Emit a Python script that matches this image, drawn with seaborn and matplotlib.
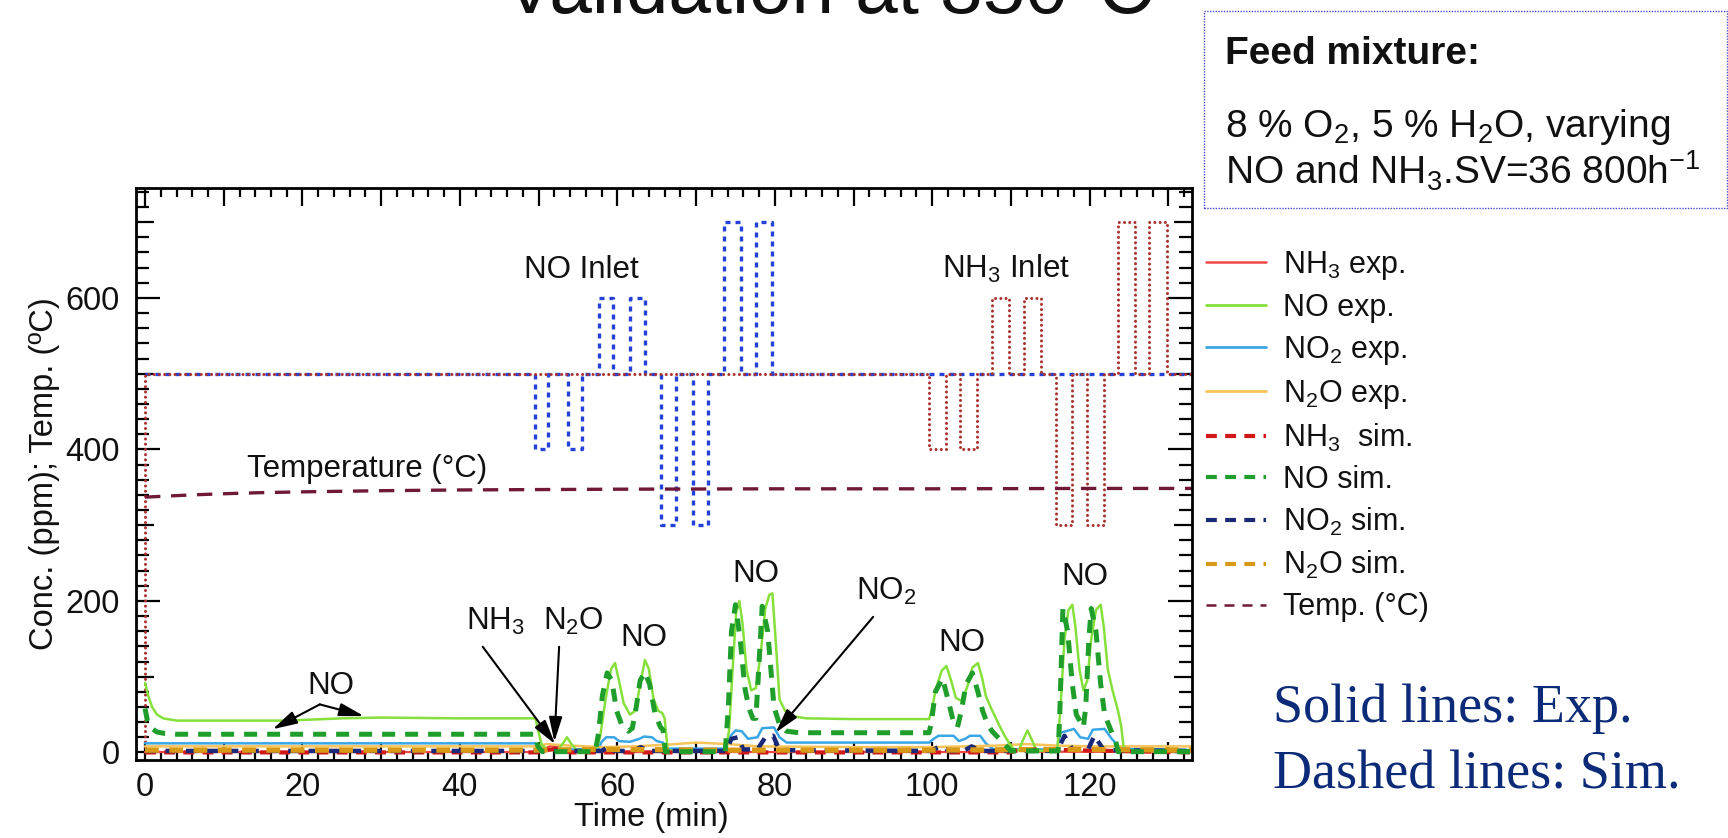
import matplotlib
matplotlib.use("Agg")
import matplotlib.pyplot as plt
from matplotlib.lines import Line2D
from matplotlib.patches import Rectangle
from matplotlib.ticker import MultipleLocator, FuncFormatter
import seaborn as sns

# ---------------------------------------------------------------- data
# Inlet set-point pulses (ppm) around the 500 ppm baseline
NO_PULSE_START = [49.5, 53.7, 57.7, 61.6, 65.6, 69.6, 73.5, 77.6]
NO_PULSE_END = [51.2, 55.5, 59.4, 63.5, 67.4, 71.5, 75.7, 79.7]
NO_PULSE_PPM = [400, 400, 600, 600, 300, 300, 700, 700]
NH3_PULSE_START = [99.6, 103.5, 107.6, 111.7, 115.7, 119.6, 123.6, 127.6]
NH3_PULSE_END = [101.8, 105.7, 109.7, 113.8, 117.8, 121.8, 125.7, 129.8]
NH3_PULSE_PPM = [400, 400, 600, 600, 300, 300, 700, 700]
INLET_BASE = 500

# Experimental outlet concentrations (ppm)
NO_EXP_T = [0.0, 0.4, 0.9, 1.5, 2.3, 4.0, 10, 18, 25, 30, 40, 49.6, 49.9, 50.4, 51.2,
            52.4, 53.1, 53.6, 54.1, 54.8, 56.0, 57.2, 57.8, 58.5, 59.2, 59.7, 60.2,
            60.8, 61.6, 62.3, 62.9, 63.5, 64.0, 64.6, 65.2, 65.7, 66.0, 66.4, 68.0,
            70.0, 72.0, 73.8, 74.2, 74.7, 75.1, 75.5, 75.9, 76.4, 77.0, 77.6, 78.2,
            78.8, 79.3, 79.7, 80.1, 80.6, 81.3, 82.1, 84.0, 90, 95, 99.6, 99.9, 100.5,
            101.2, 101.8, 102.4, 103.0, 103.7, 104.4, 105.1, 105.8, 106.3, 106.8,
            107.4, 108.0, 108.6, 109.2, 109.8, 110.5, 111.0, 111.6, 112.1, 112.6,
            113.1, 113.7, 115.0, 115.9, 116.3, 116.8, 117.3, 117.8, 118.2, 118.7,
            119.2, 119.7, 120.2, 120.8, 121.4, 121.8, 122.3, 122.9, 123.6, 124.0,
            124.3, 124.8, 127, 130, 133.0]
NO_EXP_PPM = [92, 75, 60, 50, 45, 42, 42, 42, 45, 46, 45, 45, 30, 10, 3,
              3, 12, 20, 12, 3, 1, 2, 20, 70, 110, 118, 95,
              65, 50, 55, 90, 122, 110, 70, 55, 52, 45, 3, 1,
              2, 2, 3, 30, 120, 185, 200, 170, 110, 82, 85, 130,
              190, 208, 210, 150, 70, 55, 48, 45, 44, 44, 44, 55, 85,
              108, 114, 95, 72, 68, 85, 112, 118, 100, 75,
              60, 47, 34, 22, 12, 2, 3, 18, 29, 18,
              6, 2, 2, 5, 60, 150, 188, 195, 165, 110,
              82, 95, 150, 188, 195, 165, 110, 82, 55, 35,
              8, 2, 2, 2, 2]

NO2_EXP_T = [0, 49.6, 50.4, 57.6, 58.0, 58.6, 59.6, 60.2, 61.6, 62.8, 63.4, 64.4, 65.0,
             65.8, 66.4, 73.6, 74.4, 75.0, 75.8, 76.6, 77.8, 78.4, 79.9, 80.6, 81.5,
             99.6, 100.2, 100.8, 102.7, 103.4, 104.2, 104.8, 106.1, 106.8, 107.8,
             115.8, 116.3, 118.0, 118.8, 119.8, 120.4, 121.9, 122.8, 124.0, 133]
NO2_EXP_PPM = [12, 12, 4, 4, 14, 20, 20, 15, 14, 18, 21, 20, 15,
               13, 5, 5, 22, 29, 28, 18, 20, 32, 33, 20, 13,
               13, 18, 22, 22, 15, 18, 22, 22, 12, 4,
               4, 26, 31, 20, 18, 30, 31, 18, 5, 3]

N2O_EXP_T = [0, 30, 49.6, 51, 54, 58, 62, 66, 70, 74, 78, 90, 100, 104, 108, 112, 116,
             120, 126, 133]
N2O_EXP_PPM = [8, 8, 8, 11, 9, 7, 8, 10, 13, 11, 8, 7, 7, 8, 9, 11, 9, 8, 8, 8]

NH3_EXP_T = [0, 49.6, 50.6, 51.6, 52.4, 53.4, 55.0, 109.8, 110.6, 111.4, 112.4, 133]
NH3_EXP_PPM = [0.5, 0.5, 4, 9, 7, 2, 0.5, 0.5, 3, 6, 1, 0.5]

# Simulated outlet concentrations (ppm)
NO_SIM_T = [0.0, 0.3, 0.8, 1.5, 2.5, 4.0, 49.5, 49.9, 50.5, 57.2, 57.6, 58.1, 58.7,
            59.3, 59.9, 60.6, 61.4, 61.9, 62.4, 62.9, 63.5, 64.1, 64.8, 65.5, 65.8,
            66.1, 73.7, 74.1, 74.5, 75.0, 75.6, 76.2, 76.7, 77.2, 77.6, 77.9, 78.4,
            79.1, 79.9, 80.6, 81.5, 83, 99.6, 99.9, 100.4, 101.3, 102.0, 102.7, 103.2,
            103.7, 104.3, 105.1, 105.8, 106.4, 107.0, 107.6, 108.8, 110.0, 116.0,
            116.2, 116.6, 117.2, 117.8, 118.3, 119.2, 119.5, 119.9, 120.2, 120.8,
            121.4, 121.9, 122.9, 123.3, 123.6, 133.0]
NO_SIM_PPM = [58, 42, 32, 27, 25, 24, 24, 8, 1, 1, 25, 75, 105,
              95, 55, 35, 28, 32, 60, 95, 106, 90, 50, 33, 30,
              1, 1, 60, 160, 195, 150, 85, 59, 45, 45, 100, 193,
              160, 60, 37, 28, 26, 26, 40, 80, 98, 70, 40, 33,
              55, 90, 105, 80, 55, 38, 28, 15, 2, 2,
              50, 190, 160, 90, 50, 33, 60, 150, 190, 160,
              90, 50, 24, 15, 1, 1]

NO2_SIM_T = [0, 58.0, 58.8, 59.6, 62.0, 63.0, 63.8, 66, 73.8, 74.5, 75.3, 76.0, 77.8,
             78.8, 79.8, 80.6, 99.8, 101.0, 102.2, 104.0, 105.0, 106.2, 115.9, 116.8,
             117.8, 119.8, 120.6, 121.8, 133]
NO2_SIM_PPM = [2, 2, 7, 2, 2, 7, 2, 2, 2, 18, 20, 4, 4,
               20, 22, 3, 2, 8, 2, 2, 8, 2, 2, 22,
               4, 4, 22, 3, 2]

N2O_SIM_T = [0, 50, 58, 75, 100, 117, 133]
N2O_SIM_PPM = [3, 3, 4, 3, 3, 4, 3]

NH3_SIM_T = [0, 49.8, 51.0, 52.2, 54.0, 109.8, 111.0, 112.2, 133]
NH3_SIM_PPM = [0, 0, 3, 5, 0, 0, 3, 4, 0]

# Reactor temperature (deg C)
TEMP_T = [0, 3, 6, 10, 15, 20, 30, 40, 50, 60, 80, 100, 120, 133]
TEMP_C = [337, 338.5, 340, 341.5, 343, 344, 345.5, 346.5, 347, 347.5, 348, 348,
          348.5, 348.5]

LEGEND_LABELS = [r"NH$_3$ exp.", "NO exp.", r"NO$_2$ exp.", r"N$_2$O exp.",
                 r"NH$_3$  sim.", "NO sim.", r"NO$_2$ sim.", r"N$_2$O sim.",
                 "Temp. (°C)"]

# ---------------------------------------------------------------- style
sns.set_style("ticks")
plt.rcParams["font.family"] = ["Liberation Sans", "DejaVu Sans"]
plt.rcParams["mathtext.fontset"] = "custom"
plt.rcParams["mathtext.rm"] = "Liberation Sans"
plt.rcParams["mathtext.it"] = "Liberation Sans:italic"
plt.rcParams["mathtext.bf"] = "Liberation Sans:bold"
plt.rcParams["axes.linewidth"] = 2.0

PX = 72 / 100  # points per pixel

C_NH3_EXP, C_NO_EXP, C_NO2_EXP, C_N2O_EXP = "#f04848", "#86e03c", "#3aa6e6", "#f8c45a"
C_NH3_SIM, C_NO_SIM, C_NO2_SIM, C_N2O_SIM = "#d01818", "#1f9e2c", "#1a2878", "#d89a16"
C_TEMP = "#701838"
C_NO_IN, C_NH3_IN = "#2443d6", "#a8322e"

SIM_DASH = (0, (2.6, 2.0))
TEMP_DASH = (0, (4.6, 3.2))

Y_TOP = 745


def inlet_steps(starts, ends, levels, base, start_level=None, t_end=133.0):
    t, v = [], []
    if start_level is not None:
        t.append(0.0)
        v.append(start_level)
    t.append(0.0)
    v.append(base)
    for s, e, lv in zip(starts, ends, levels):
        t += [s, s, e, e]
        v += [base, lv, lv, base]
    t.append(t_end)
    v.append(base)
    return t, v


fig = plt.figure(figsize=(17.28, 8.38), dpi=100)
ax_h = (Y_TOP + 10) * 0.7575  # axes height in pixels
ax = fig.add_axes([136 / 1728, 78 / 838, 1056 / 1728, ax_h / 838])


def line(t, v, **kw):
    sns.lineplot(x=t, y=v, sort=False, estimator=None, ax=ax, **kw)


# inlet set points
no_t, no_v = inlet_steps(NO_PULSE_START, NO_PULSE_END, NO_PULSE_PPM, INLET_BASE)
nh3_t, nh3_v = inlet_steps(NH3_PULSE_START, NH3_PULSE_END, NH3_PULSE_PPM, INLET_BASE,
                           start_level=0.0)
line(no_t, no_v, color=C_NO_IN, lw=2.4, linestyle=(0, (1.5, 1.5)))
line(nh3_t, nh3_v, color=C_NH3_IN, lw=2.2, linestyle=(0, (0.01, 1.7)),
     dash_capstyle="round")

# temperature
line(TEMP_T, TEMP_C, color=C_TEMP, lw=2.4, linestyle=TEMP_DASH)

# experiments
line(NH3_EXP_T, NH3_EXP_PPM, color=C_NH3_EXP, lw=1.6)
line(NO2_EXP_T, NO2_EXP_PPM, color=C_NO2_EXP, lw=1.8)
line(N2O_EXP_T, N2O_EXP_PPM, color=C_N2O_EXP, lw=1.8)
line(NO_EXP_T, NO_EXP_PPM, color=C_NO_EXP, lw=1.8)

# simulations
line(NH3_SIM_T, NH3_SIM_PPM, color=C_NH3_SIM, lw=3.0, linestyle=SIM_DASH)
line(NO2_SIM_T, NO2_SIM_PPM, color=C_NO2_SIM, lw=3.2, linestyle=SIM_DASH)
line(N2O_SIM_T, N2O_SIM_PPM, color=C_N2O_SIM, lw=3.8, linestyle=SIM_DASH)
line(NO_SIM_T, NO_SIM_PPM, color=C_NO_SIM, lw=3.6, linestyle=SIM_DASH)

# ---------------------------------------------------------------- axes
ax.set_xlim(-1.15, 133.0)
ax.set_ylim(-10, Y_TOP)
ax.xaxis.set_major_locator(MultipleLocator(10))
ax.xaxis.set_minor_locator(MultipleLocator(2))
ax.yaxis.set_major_locator(MultipleLocator(100))
ax.yaxis.set_minor_locator(MultipleLocator(20))
ax.xaxis.set_major_formatter(FuncFormatter(lambda v, p: f"{v:.0f}" if round(v) % 20 == 0 else ""))
ax.yaxis.set_major_formatter(FuncFormatter(lambda v, p: f"{v:.0f}" if round(v) % 200 == 0 else ""))
ax.tick_params(which="both", direction="in", top=True, right=True, width=1.6,
               color="black", labelsize=23.5, labelcolor="#111111")
ax.tick_params(axis="x", which="major", length=18 * PX, pad=8.5)
ax.tick_params(axis="x", which="minor", length=9 * PX)
ax.tick_params(axis="y", which="major", length=18 * PX, pad=11.5)
ax.tick_params(axis="y", which="minor", length=13 * PX)
for sp in ax.spines.values():
    sp.set_visible(True)
    sp.set_linewidth(2.0)
    sp.set_color("black")

for tick, loc in zip(ax.yaxis.get_major_ticks(), ax.yaxis.get_majorticklocs()):
    if round(loc) % 200 == 0:
        tick.tick1line.set_markersize(24 * PX)
        tick.tick2line.set_markersize(24 * PX)

ax.set_xlabel("Time (min)", fontsize=23.5, color="#111111")
ax.set_ylabel("Conc. (ppm); Temp. (ºC)", fontsize=23.5, color="#111111")
ax.xaxis.set_label_coords(0.4877, -42 / ax_h)
ax.yaxis.set_label_coords(-0.072, 0.5)

# ---------------------------------------------------------------- annotations
ANN_FS = 22.5
ann_text = [
    ("NO Inlet", 48.2, 626, "left"),
    (r"NH$_3$ Inlet", 101.2, 626, "left"),
    ("Temperature (°C)", 12.9, 363, "left"),
    ("NO", 23.6, 76.5, "center"),
    (r"NH$_3$", 44.5, 162, "center"),
    (r"N$_2$O", 54.4, 162, "center"),
    ("NO", 63.4, 140, "center"),
    ("NO", 77.6, 225, "center"),
    (r"NO$_2$", 90.3, 201, "left"),
    ("NO", 103.8, 133.5, "center"),
    ("NO", 119.4, 221, "center"),
]
for txt, tx, ty, ha in ann_text:
    ax.text(tx, ty, txt, fontsize=ANN_FS, ha=ha, va="baseline", color="#111111")

arrows = [
    ((22.2, 63.4), (16.2, 30.6)),
    ((22.2, 63.4), (27.8, 48.0)),
    ((42.9, 139.5), (52.1, 10.9)),
    ((52.6, 139.5), (52.0, 14.0)),
    ((92.5, 179.0), (80.1, 26.0)),
]
for tail, head in arrows:
    ax.annotate("", xy=head, xytext=tail,
                arrowprops=dict(arrowstyle="-|>,head_length=0.75,head_width=0.2",
                                color="black", lw=1.5, mutation_scale=20,
                                shrinkA=0, shrinkB=0))

# ---------------------------------------------------------------- legend
handles = [
    Line2D([], [], color=C_NH3_EXP, lw=1.8),
    Line2D([], [], color=C_NO_EXP, lw=2.0),
    Line2D([], [], color=C_NO2_EXP, lw=2.0),
    Line2D([], [], color=C_N2O_EXP, lw=2.0),
    Line2D([], [], color=C_NH3_SIM, lw=3.0, linestyle=SIM_DASH),
    Line2D([], [], color=C_NO_SIM, lw=3.0, linestyle=SIM_DASH),
    Line2D([], [], color=C_NO2_SIM, lw=3.0, linestyle=SIM_DASH),
    Line2D([], [], color=C_N2O_SIM, lw=3.0, linestyle=SIM_DASH),
    Line2D([], [], color=C_TEMP, lw=1.8, linestyle=(0, (4.0, 3.2))),
]
fig.legend(handles, LEGEND_LABELS, loc="upper left",
           bbox_to_anchor=(1206 / 1728, 1 - 249 / 838), frameon=False,
           fontsize=22, handlelength=1.96, handletextpad=0.55, labelspacing=0.36,
           borderpad=0, borderaxespad=0, labelcolor="#111111")

# ---------------------------------------------------------------- figure texts
fig.text(829 / 1728, 1 - 13 / 838, "Validation at 350°C", fontsize=55,
         ha="center", va="baseline", color="#111111")

fig.patches.append(Rectangle((1204 / 1728, 1 - 208 / 838), 523 / 1728, 197 / 838,
                             transform=fig.transFigure, fill=False,
                             edgecolor="#4a4ad0", lw=1.0, linestyle=(0, (1, 1))))
fig.text(1225 / 1728, 1 - 64 / 838, "Feed mixture:", fontsize=28, weight="bold",
         va="baseline", color="#111111")
fig.text(1225 / 1728, 1 - 137 / 838, r"8 % O$_2$, 5 % H$_2$O, varying", fontsize=28,
         va="baseline", color="#111111")
fig.text(1225 / 1728, 1 - 185 / 838, r"NO and NH$_3$.SV=36 800h$^{-1}$", fontsize=28,
         va="baseline", color="#111111")

fig.text(1273 / 1728, 1 - 722 / 838, "Solid lines: Exp.", fontsize=39,
         family="Liberation Serif", color="#0b2a78", va="baseline")
fig.text(1273 / 1728, 1 - 788 / 838, "Dashed lines: Sim.", fontsize=39,
         family="Liberation Serif", color="#0b2a78", va="baseline")

fig.savefig("out.png", dpi=100)
